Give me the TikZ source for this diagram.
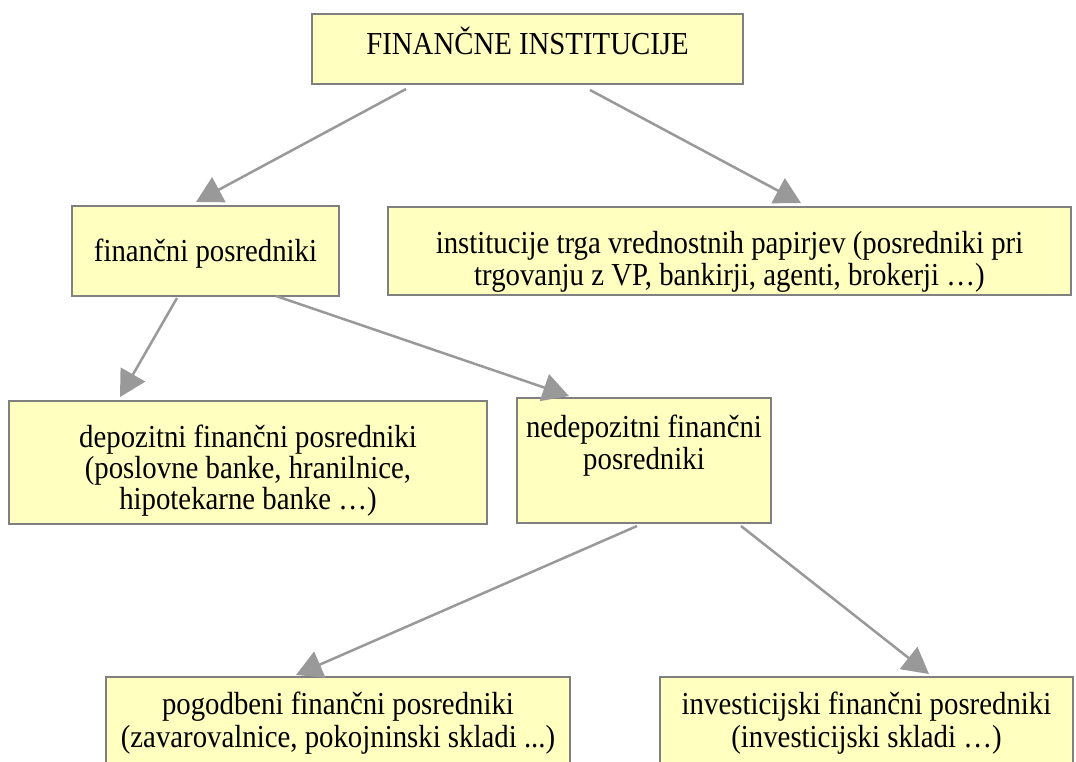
\documentclass[tikz,border=0pt]{standalone}
\usepackage{fontspec}
\setmainfont{Liberation Serif}[FakeStretch=0.9]
\usetikzlibrary{arrows.meta,calc}
\definecolor{boxfill}{HTML}{FFFFBF}
\definecolor{boxline}{HTML}{808080}
\definecolor{arrline}{HTML}{999999}
\begin{document}
\begin{tikzpicture}[x=1pt,y=-1pt,
  box/.style={draw=boxline,fill=boxfill,line width=2pt,inner sep=0pt,rectangle},
  txt/.style={inner sep=0pt,align=center,font=\fontsize{32}{32}\selectfont},
  arr/.style={draw=arrline,line width=2.5pt,-{Triangle[length=26pt,width=28pt]}}]
\useasboundingbox (0,0) rectangle (1076,762);
\clip (0,0) rectangle (1076,762);
% boxes
\node[box,minimum width=431pt,minimum height=70pt] (top) at (527.5,49) {};
\node[box,minimum width=267pt,minimum height=90pt] (fp) at (205.5,251) {};
\node[box,minimum width=683pt,minimum height=88pt] (inst) at (729.5,251) {};
\node[box,minimum width=478pt,minimum height=123pt] (dep) at (248,462.5) {};
\node[box,minimum width=254pt,minimum height=125pt] (ned) at (644,460.5) {};
\node[box,minimum width=464pt,minimum height=120pt] (pog) at (338,737) {};
\node[box,minimum width=413pt,minimum height=120pt] (inv) at (866.5,737) {};
% texts
\node[txt,anchor=base] (top-t) at (527.5,55) {FINANČNE INSTITUCIJE};
\node[txt,anchor=base] (fp-t) at (205.5,261) {finančni posredniki};
\node[txt,anchor=north] (inst-t) at (729.5,231) {institucije trga vrednostnih papirjev (posredniki pri\\trgovanju z VP, bankirji, agenti, brokerji …)};
\node[txt,anchor=north,font=\fontsize{32}{31}\selectfont] (dep-t) at (248,425) {depozitni finančni posredniki\\(poslovne banke, hranilnice,\\hipotekarne banke …)};
\node[txt,anchor=north] (ned-t) at (644,415) {nedepozitni finančni\\posredniki};
\node[txt,anchor=north,font=\fontsize{32}{33}\selectfont] (pog-t) at (338,692) {pogodbeni finančni posredniki\\(zavarovalnice, pokojninski skladi ...)};
\node[txt,anchor=north,font=\fontsize{32}{33}\selectfont] (inv-t) at (866.5,692) {investicijski finančni posredniki\\(investicijski skladi …)};
% connectors
\draw[arr] ($(top.south west)+(95,4)$) -- ($(fp.north west)+(125,-3)$);
\draw[arr] ($(top.south west)+(279,5)$) -- ($(inst.north west)+(414,-3)$);
\draw[arr] ($(fp.south west)+(106,1)$) -- ($(dep.north west)+(112,-3)$);
\draw[arr] ($(fp.south west)+(205,-1)$) -- ($(ned.north west)+(53,-1)$);
\draw[arr] ($(ned.south west)+(121,2)$) -- ($(pog.north west)+(191,-1)$);
\draw[arr] ($(ned.south west)+(225,2)$) -- ($(inv.north west)+(270,-2)$);
\end{tikzpicture}
\end{document}
